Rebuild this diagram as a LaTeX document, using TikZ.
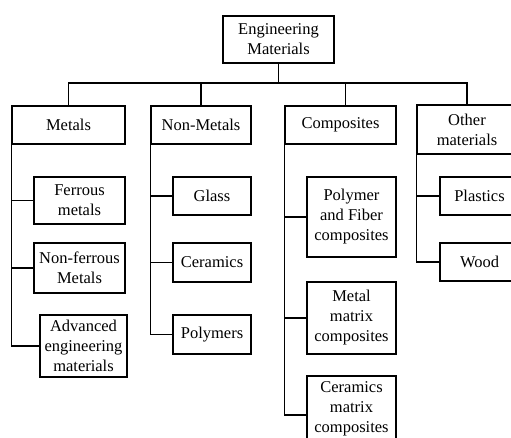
\documentclass[tikz,border=0pt]{standalone}
\usepackage{fontspec}
\setmainfont{Liberation Serif}
\usepackage{tikz}
\usetikzlibrary{positioning}
\tikzset{
  matbox/.style={draw, line width=1.2pt, align=center, inner sep=1pt,
    font=\fontsize{16.5}{20}\selectfont},
  link/.style={line width=1.2pt}
}

\begin{document}
\begin{tikzpicture}[x=1pt, y=-1pt]
  \clip (0,0) rectangle (511,438);
  \useasboundingbox (0,0) rectangle (511,438);

  %% Root
  \node[matbox, minimum width=111pt, minimum height=47pt] (root) at (278.5,39.5)
    {Engineering\\Materials};
  \coordinate (split) at (278.5,83);

  %% Main groups
  \node[matbox, minimum width=113pt, minimum height=38pt] (metals) at (68.5,125) {Metals};
  \node[matbox, minimum width=100pt, minimum height=38pt] (nonmetals) at (201,125) {Non-Metals};
  \node[matbox, minimum width=111pt, minimum height=38pt] (composites) at (340.5,125) {Composites};
  \node[matbox, minimum width=100pt, minimum height=49pt] (others) at (467,129.5)
    {Other\\materials};

  %% Metals
  \node[matbox, minimum width=91pt, minimum height=47pt] (ferrous) at (79.5,200.5)
    {Ferrous\\metals};
  \node[matbox, minimum width=91pt, minimum height=50pt] (nonferrous) at (79.5,268)
    {Non-ferrous\\Metals};
  \node[matbox, minimum width=87pt, minimum height=62pt] (advanced) at (83.5,346)
    {Advanced\\engineering\\materials};

  %% Non-metals
  \node[matbox, minimum width=78pt, minimum height=38pt] (glass) at (212,196) {Glass};
  \node[matbox, minimum width=78pt, minimum height=39pt] (ceramics) at (212,262.5) {Ceramics};
  \node[matbox, minimum width=78pt, minimum height=39pt] (polymers) at (212,334.5) {Polymers};

  %% Composites
  \node[matbox, minimum width=89pt, minimum height=80pt] (polyfiber) at (351.5,217)
    {Polymer\\and Fiber\\composites};
  \node[matbox, minimum width=89pt, minimum height=72pt] (metalmatrix) at (351.5,318)
    {Metal\\matrix\\composites};
  \node[matbox, minimum width=89pt, minimum height=66pt] (ceramatrix) at (351.5,409)
    {Ceramics\\matrix\\composites};

  %% Other materials
  \node[matbox, minimum width=79pt, minimum height=38pt] (plastics) at (479.5,196) {Plastics};
  \node[matbox, minimum width=79pt, minimum height=38pt] (wood) at (479.5,262) {Wood};

  %% Tree lines
  \draw[link] (root.south) -- (split);
  \draw[link] (metals.north) |- (split) -| (others.north);
  \draw[link] (nonmetals.north) -- (nonmetals.north |- split);
  \draw[link] ([xshift=5pt]composites.north) -- ([xshift=5pt]composites.north |- split);

  \draw[link] (metals.south west) |- (advanced.west);
  \draw[link] (metals.south west |- ferrous.west) -- (ferrous.west);
  \draw[link] (metals.south west |- nonferrous.west) -- (nonferrous.west);

  \draw[link] (nonmetals.south west) |- (polymers.west);
  \draw[link] (nonmetals.south west |- glass.west) -- (glass.west);
  \draw[link] (nonmetals.south west |- ceramics.west) -- (ceramics.west);

  \draw[link] (composites.south west) |- ([yshift=-6pt]ceramatrix.west);
  \draw[link] (composites.south west |- polyfiber.west) -- (polyfiber.west);
  \draw[link] (composites.south west |- metalmatrix.west) -- (metalmatrix.west);

  \draw[link] (others.south west) |- (wood.west);
  \draw[link] (others.south west |- plastics.west) -- (plastics.west);
\end{tikzpicture}
\end{document}
